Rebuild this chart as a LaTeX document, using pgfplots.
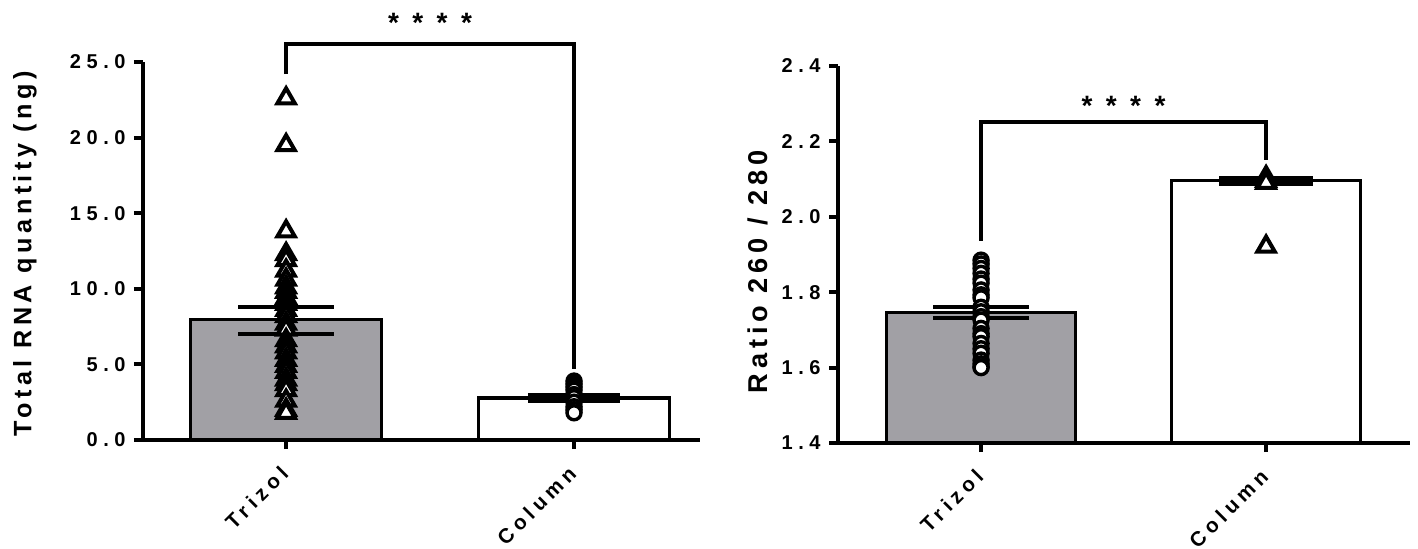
\documentclass[border=0pt]{standalone}
\usepackage{fontspec}
\setmainfont{Liberation Sans Bold}[LetterSpace=20]
\newfontfamily\tickfont{Liberation Sans Bold}[LetterSpace=28]
\newfontfamily\xtickfont{Liberation Sans Bold}[LetterSpace=24]
\newfontfamily\labfont{Liberation Sans Bold}[LetterSpace=18]
\usepackage{pgfplots}
\pgfplotsset{compat=1.18}
\definecolor{barg}{RGB}{161,160,165}
\pgfplotsset{
  myaxis/.style={
    scale only axis, clip=false,
    axis x line*=bottom, axis y line*=left,
    axis line style={line width=2pt,-},
    tick style={line width=2pt,black}, tick align=outside,
    major tick length=4.5pt,
    xtick={0,1}, xticklabels={Trizol,Column},
    x tick label style={rotate=45, anchor=north east, font=\xtickfont\fontsize{10.3}{10.3}\selectfont, inner sep=0pt, xshift=-7.8pt, yshift=-2.8pt},
    y tick label style={font=\tickfont\fontsize{10}{10}\selectfont, inner sep=0pt, xshift=-4pt},
    /pgf/number format/fixed, /pgf/number format/fixed zerofill,
    /pgf/number format/precision=1, /pgf/number format/assume math mode=true,
  },
  tri/.style={only marks, mark=triangle*, mark size=5pt, mark options={fill=white, draw=black, line width=2pt, line join=miter}},
  circ/.style={only marks, mark=*, mark size=3.5pt, mark options={fill=white, draw=black, line width=1.7pt}},
  barstyle/.style={ybar, bar shift=0pt, bar width=0.663, draw=black, line width=1.6pt},
  eb/.style={line width=2pt, black, line cap=butt},
}
\begin{document}
\begin{tikzpicture}
\path[use as bounding box] (0,0) rectangle (709pt,274pt);
% ---------------- left panel
\begin{axis}[myaxis,
  at={(71.5pt,54pt)}, anchor=south west,
  width=278.5pt, height=189pt,
  xmin=-0.497, xmax=1.4375, ymin=0, ymax=25,
  ytick={0,5,10,15,20,25},
  ylabel={Total RNA quantity (ng)},
  every axis y label/.style={at={(axis description cs:-0.212,0.493)}, rotate=90, anchor=center, font=\labfont\fontsize{12.6}{13}\selectfont},
]
\addplot[barstyle, fill=barg] coordinates {(0,7.95)};
\addplot[barstyle, fill=white] coordinates {(1,2.78)};
\addplot[tri] table {
x y
0 22.6
0 19.5
0 13.8
0 12.3
0 11.9
0 11.2
0 10.6
0 10.1
0 9.8
0 9.4
0 9.0
0 8.6
0 8.2
0 7.7
0 7.3
0 6.6
0 6.2
0 5.8
0 5.3
0 4.9
0 4.5
0 4.0
0 3.7
0 3.3
0 2.6
0 2.0
0 1.8
};
\addplot[circ] table {
x y
1 3.9
1 3.7
1 3.5
1 3.3
1 3.0
1 2.8
1 2.5
1 2.2
1 2.0
1 1.8
};
% error bars
\addplot[eb] coordinates {(-0.167,8.8) (0.167,8.8)};
\addplot[eb] coordinates {(-0.167,7.0) (0.167,7.0)};
\addplot[eb] coordinates {(0,7.0) (0,8.8)};
\addplot[line width=5pt, black] coordinates {(0.84,2.78) (1.16,2.78)};
% significance bracket
\addplot[line width=2pt, black, line join=miter] coordinates {(0,24.2) (0,26.2) (1,26.2) (1,4.7)};
\node[font=\fontsize{14}{14}\selectfont] at (axis cs:0.5,27.6) {* * * *};
\end{axis}
% ---------------- right panel
\begin{axis}[myaxis,
  at={(419pt,52.5pt)}, anchor=south west,
  width=286pt, height=188.5pt,
  xmin=-0.502, xmax=1.505, ymin=1.4, ymax=2.4,
  ytick={1.4,1.6,1.8,2.0,2.2,2.4},
  ylabel={Ratio 260 / 280},
  every axis y label/.style={at={(axis description cs:-0.14,0.454)}, rotate=90, anchor=center, font=\labfont\fontsize{13.6}{14}\selectfont},
]
\addplot[barstyle, fill=barg] coordinates {(0,1.747)};
\addplot[barstyle, fill=white] coordinates {(1,2.096)};
\addplot[circ] table {
x y
0 1.885
0 1.875
0 1.863
0 1.850
0 1.835
0 1.824
0 1.806
0 1.793
0 1.785
0 1.760
0 1.748
0 1.735
0 1.726
0 1.704
0 1.690
0 1.682
0 1.664
0 1.650
0 1.638
0 1.620
0 1.610
0 1.602
0 1.600
};
\addplot[tri] table {
x y
1 2.105
1 2.100
1 2.095
1 2.090
1 1.921
};
\addplot[eb] coordinates {(-0.167,1.7615) (0.167,1.7615)};
\addplot[eb] coordinates {(-0.167,1.7323) (0.167,1.7323)};
\addplot[eb] coordinates {(0,1.7323) (0,1.7615)};
\addplot[line width=5pt, black] coordinates {(0.835,2.096) (1.165,2.096)};
\addplot[line width=2pt, black, line join=miter] coordinates {(0,1.937) (0,2.251) (1,2.251) (1,2.15)};
\node[font=\fontsize{14}{14}\selectfont] at (axis cs:0.5,2.293) {* * * *};
\end{axis}
\end{tikzpicture}
\end{document}
